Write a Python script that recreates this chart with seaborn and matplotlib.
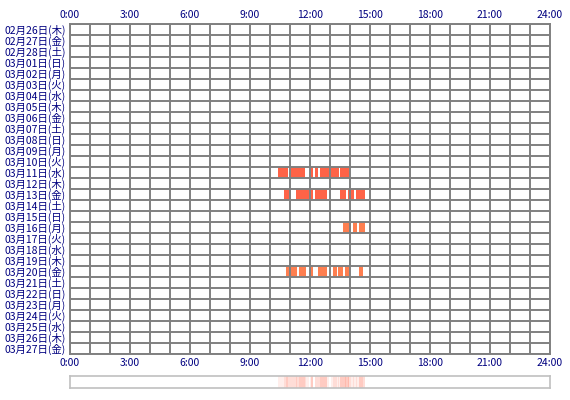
"""
plot.py
---------------------------------------------------------------------
Daily activity chart: one row per day, orange blocks for active time,
with a summary strip under the grid.
"""
import numpy as np
import matplotlib
matplotlib.use("Agg")
import matplotlib.pyplot as plt
from matplotlib.colors import LinearSegmentedColormap
import seaborn as sns


DAYS = ["02月26日(木)", "02月27日(金)", "02月28日(土)", "03月01日(日)",
        "03月02日(月)", "03月03日(火)", "03月04日(水)", "03月05日(木)",
        "03月06日(金)", "03月07日(土)", "03月08日(日)", "03月09日(月)",
        "03月10日(火)", "03月11日(水)", "03月12日(木)", "03月13日(金)",
        "03月14日(土)", "03月15日(日)", "03月16日(月)", "03月17日(火)",
        "03月18日(水)", "03月19日(木)", "03月20日(金)", "03月21日(土)",
        "03月22日(日)", "03月23日(月)", "03月24日(火)", "03月25日(水)",
        "03月26日(木)", "03月27日(金)"]

HOUR_LABELS = ["0:00", "3:00", "6:00", "9:00", "12:00", "15:00",
               "18:00", "21:00", "24:00"]

# active periods (start hour, end hour) per day
SESSIONS_0311 = [(10.40, 10.90), (11.05, 11.75), (12.05, 12.15), (12.25, 12.40),
                 (12.50, 12.95), (13.05, 13.45), (13.50, 13.95)]
SESSIONS_0313 = [(10.70, 11.05), (11.30, 11.95), (12.05, 12.15), (12.25, 12.85),
                 (13.50, 13.80), (13.90, 14.20), (14.30, 14.75)]
SESSIONS_0316 = [(13.65, 14.05), (14.15, 14.35), (14.45, 14.77)]
SESSIONS_0320 = [(10.80, 11.33), (11.45, 11.80), (12.00, 12.15), (12.40, 12.85),
                 (13.15, 13.35), (13.40, 13.65), (13.75, 13.95), (14.45, 14.65)]

ACTIVE = {
    "03月11日(水)": (SESSIONS_0311, "#ff6347"),
    "03月13日(金)": (SESSIONS_0313, "#ff6347"),
    "03月16日(月)": (SESSIONS_0316, "#ff7f50"),
    "03月20日(金)": (SESSIONS_0320, "#ff7f50"),
}


def main():
    sns.set_style("white")
    plt.rcParams["font.family"] = ["Noto Sans CJK JP", "DejaVu Sans"]

    fig = plt.figure(figsize=(5.7, 4.0), dpi=100)
    ax = fig.add_axes([70 / 570, 1 - 354 / 400, 480 / 570, 330 / 400])
    strip = fig.add_axes([70 / 570, 1 - 388 / 400, 480 / 570, 12 / 400])

    grid_color = "#808080"
    label_color = "#000080"

    for day, (sessions, color) in ACTIVE.items():
        row = DAYS.index(day)
        ax.broken_barh([(s, e - s) for s, e in sessions], (row, 1),
                       facecolor=color, edgecolor="none", zorder=1)

    ax.set_xlim(0, 24)
    ax.set_ylim(len(DAYS), 0)
    # one line per hour and per day
    ax.vlines(range(25), 0, len(DAYS), color=grid_color, linewidth=1.4,
              zorder=2)
    ax.hlines(range(len(DAYS) + 1), 0, 24, color=grid_color, linewidth=1.4,
              zorder=2)
    ax.grid(False)
    ax.set_xticks(range(0, 25, 3))
    ax.set_xticklabels(HOUR_LABELS)
    ax.set_yticks(np.arange(len(DAYS)) + 0.5)
    ax.set_yticklabels(DAYS)
    for sp in ax.spines.values():
        sp.set_color(grid_color)
        sp.set_linewidth(1.4)
        sp.set_visible(True)
    ax.tick_params(which="both", length=0, top=False, bottom=False,
                   labeltop=True, labelbottom=True, labelsize=7.5,
                   colors=label_color, pad=3)
    ax.tick_params(axis="y", pad=3)

    # summary strip: how many days were active at each minute
    counts = np.zeros(24 * 60)
    for sessions, _ in ACTIVE.values():
        for s, e in sessions:
            counts[int(round(s * 60)):int(round(e * 60))] += 1
    cmap = LinearSegmentedColormap.from_list("pale", ["#ffffff", "#ff6347"])
    sns.heatmap(counts[None, :], ax=strip, cmap=cmap, vmin=0, vmax=9,
                cbar=False, xticklabels=False, yticklabels=False)
    for sp in strip.spines.values():
        sp.set_visible(True)
        sp.set_color("#c0c0c0")
        sp.set_linewidth(1.2)

    fig.savefig("out.png", dpi=100)
    plt.close(fig)


if __name__ == "__main__":
    main()
